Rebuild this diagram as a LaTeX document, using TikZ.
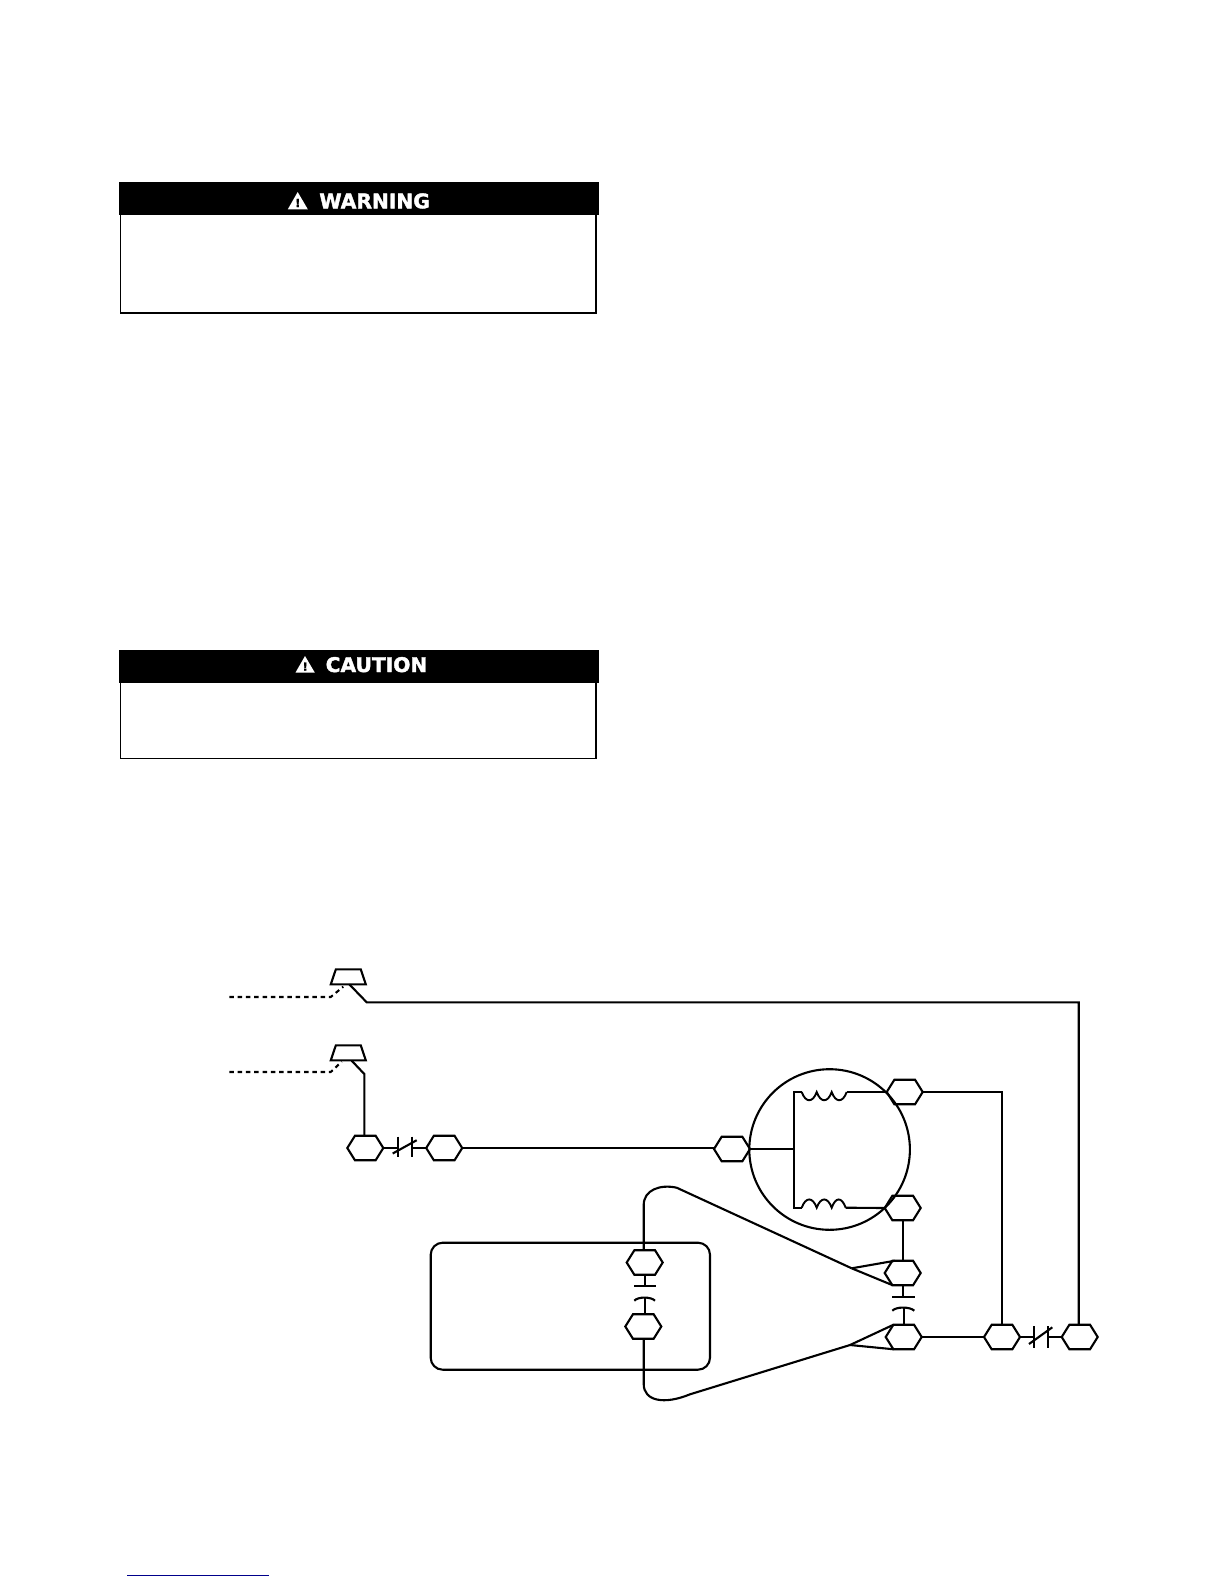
\documentclass[tikz,border=0pt]{standalone}
\usepackage{fontspec}
\setmainfont{DejaVu Sans}[BoldFeatures={FakeBold=2}]
\usetikzlibrary{shapes.geometric,shapes.symbols}
\tikzset{
  wire/.style={line width=2.1pt,line join=miter},
  hexa/.style={draw,line width=2.1pt,shape=signal,signal to=east and west,signal pointer angle=116,
    minimum width=36pt,minimum height=24.5pt,inner sep=0pt,outer sep=0pt},
  lug/.style={draw,line width=2.1pt,shape=trapezium,trapezium left angle=68,trapezium right angle=68,
    trapezium stretches=true,minimum width=35pt,minimum height=15pt,inner sep=0pt,outer sep=0pt,
    text width=10pt,text height=5pt},
  lead/.style={line width=2.1pt,dash pattern=on 4.5pt off 3.8pt},
  bar/.style={fill=black,draw=none,anchor=north west,inner sep=0pt,outer sep=0pt},
  signtext/.style={text=white,anchor=base,inner sep=0pt,font=\fontsize{20.2}{21}\selectfont\bfseries},
  bangtext/.style={text=black,inner sep=0pt,font=\fontsize{11}{11}\selectfont\bfseries}
}
\begin{document}
\begin{tikzpicture}[x=1pt,y=-1pt]
  \useasboundingbox (0,0) rectangle (1224,1584);
  % warning box
  \node[bar,minimum width=480pt,minimum height=33pt] (warnbar) at (119,182) {};
  \draw[line width=1.8pt] (warnbar.south west) ++(1.5,0) |- (596,313) -- (596,215);
  \fill[white] (287.8,209.3) -- (297.7,192) -- (307.8,209.3) -- cycle;
  \node[bangtext] (warnbang) at (297.8,203) {!};
  \node[signtext] (warntext) at (374.6,208.3) {WARNING};
  % caution box
  \node[bar,minimum width=480pt,minimum height=32.7pt] (cautbar) at (119,650) {};
  \draw[line width=1.8pt] (cautbar.south west) ++(1.5,0) |- (596,758.5) -- (596,682.7);
  \fill[white] (295.5,672.6) -- (305,656) -- (314.8,672.6) -- cycle;
  \node[bangtext] (cautbang) at (305.2,666.5) {!};
  \node[signtext] (cauttext) at (376.5,672) {CAUTION};
  % lugs and leads
  \node[lug] (luga) at (348.3,976.8) {};
  \node[lug] (lugb) at (348.3,1052.8) {};
  \coordinate (leada) at (229.3,997);
  \coordinate (leadb) at (229.3,1072);
  \draw[lead] (leada) -- (330.7,997) -- (343.3,986.7);
  \draw[lead] (leadb) -- (330.7,1072) -- (341.7,1061.7);
  % terminals
  \node[hexa] (hexa1) at (365.3,1148) {};
  \node[hexa] (hexa2) at (444.2,1148) {};
  \node[hexa] (hexc) at (732,1149) {};
  \node[hexa] (hexd) at (904.7,1092) {};
  \node[hexa] (hexe) at (902.7,1208) {};
  \node[hexa] (hexf) at (902.7,1273) {};
  \node[hexa] (hexg) at (903.7,1337) {};
  \node[hexa] (hexh) at (1002,1337) {};
  \node[hexa] (hexi) at (1079.7,1337) {};
  \node[hexa] (hexj) at (644.7,1262.5) {};
  \node[hexa] (hexk) at (643.3,1326.5) {};
  % motor
  \node[draw,line width=2.1pt,shape=circle,minimum size=160.6pt,inner sep=0pt,outer sep=0pt] (motor) at (829.6,1149.5) {};
  \coordinate (common) at (794.3,1149);
  \draw[wire] (hexc.east) -- (common);
  \draw[wire] (801.7,1092) -| (common) |- (801.7,1207.7);
  \draw[wire,line width=1.9pt] (801.7,1092) .. controls +(4,11) and +(-4,11) .. ++(15,0)
    .. controls +(4,11) and +(-4,11) .. ++(15,0)
    .. controls +(4,11) and +(-4,11) .. ++(15,0);
  \draw[wire,line width=1.9pt] (801.7,1207.7) .. controls +(4,-11) and +(-4,-11) .. ++(15,0)
    .. controls +(4,-11) and +(-4,-11) .. ++(15,0)
    .. controls +(4,-11) and +(-4,-11) .. ++(14,0);
  \draw[wire] (846.7,1092) -- (hexd.west);
  \draw[wire] (845.7,1207.7) -- (hexe.west);
  % long wires
  \coordinate (benda) at (366.7,1002.3);
  \coordinate (bendb) at (364.3,1074);
  \draw[wire] (349.3,984.3) -- (benda) -| (1078.7,1325);
  \draw[wire] (351.7,1060.7) -- (bendb) -- (364.3,1136);
  \draw[wire] (hexa2.east) -- (hexa2.east -| hexc.west);
  \draw[wire] (hexd.east) -| (hexh.north);
  \draw[wire] (hexg.east) -- (hexh.west);
  \draw[wire] (hexe.south) -- (hexf.north);
  % contact at left
  \draw[wire] (hexa1.east) -- (398.3,1148);
  \draw[wire] (412.3,1148) -- (hexa2.west);
  \draw[wire] (398.3,1136.5) -- (398.3,1157);
  \draw[wire] (412.3,1136.5) -- (412.3,1157);
  \draw[wire] (392.7,1153.5) -- (416.7,1140.2);
  % contact at right
  \draw[wire] (hexh.east) -- (1034,1337);
  \draw[wire] (1048,1337) -- (hexi.west);
  \draw[wire] (1034,1326) -- (1034,1348.3);
  \draw[wire] (1048,1326) -- (1048,1348.3);
  \draw[wire] (1029,1344) -- (1052.3,1327.3);
  % capacitor at motor
  \draw[wire] (hexf.south) -- (902.7,1296.7);
  \draw[wire] (892.3,1296.7) -- (914.7,1296.7);
  \draw[wire] (892.3,1310.7) .. controls (896,1306.5) and (910,1306.5) .. (914.3,1310.7);
  \draw[wire] (903.7,1307.5) -- (hexg.north);
  % control box
  \draw[line width=2.1pt,rounded corners=12pt] (430.7,1242.7) rectangle (710,1369.7);
  \draw[wire] (645,1275) -- (645,1286.3);
  \draw[wire] (634.3,1286.3) -- (655.7,1286.3);
  \draw[wire] (634.3,1300.7) .. controls (638,1296.5) and (651,1296.5) .. (655,1300.7);
  \draw[wire] (645,1297.5) -- (645,1314);
  % loops to the capacitor
  \coordinate (forka) at (851.7,1268.3);
  \coordinate (forkb) at (850,1345);
  \draw[wire] (643.7,1250) -- (643.7,1205) .. controls (643.7,1190) and (660,1184) .. (676.7,1187.7) -- (forka);
  \draw[wire] (forka) -- (hexf.123);
  \draw[wire] (forka) -- (hexf.229);
  \draw[wire] (643.7,1339) -- (643.7,1384) .. controls (643.7,1401) and (664,1405) .. (690,1394.3) -- (forkb);
  \draw[wire] (forkb) -- (hexg.130);
  \draw[wire] (forkb) -- (hexg.230);
  % link rule
  \coordinate (linka) at (127,1575.3);
  \coordinate (linkb) at (269,1575.3);
  \draw[line width=1.2pt,color={rgb,255:red,0;green,0;blue,139}] (linka) -- (linkb);
\end{tikzpicture}
\end{document}
